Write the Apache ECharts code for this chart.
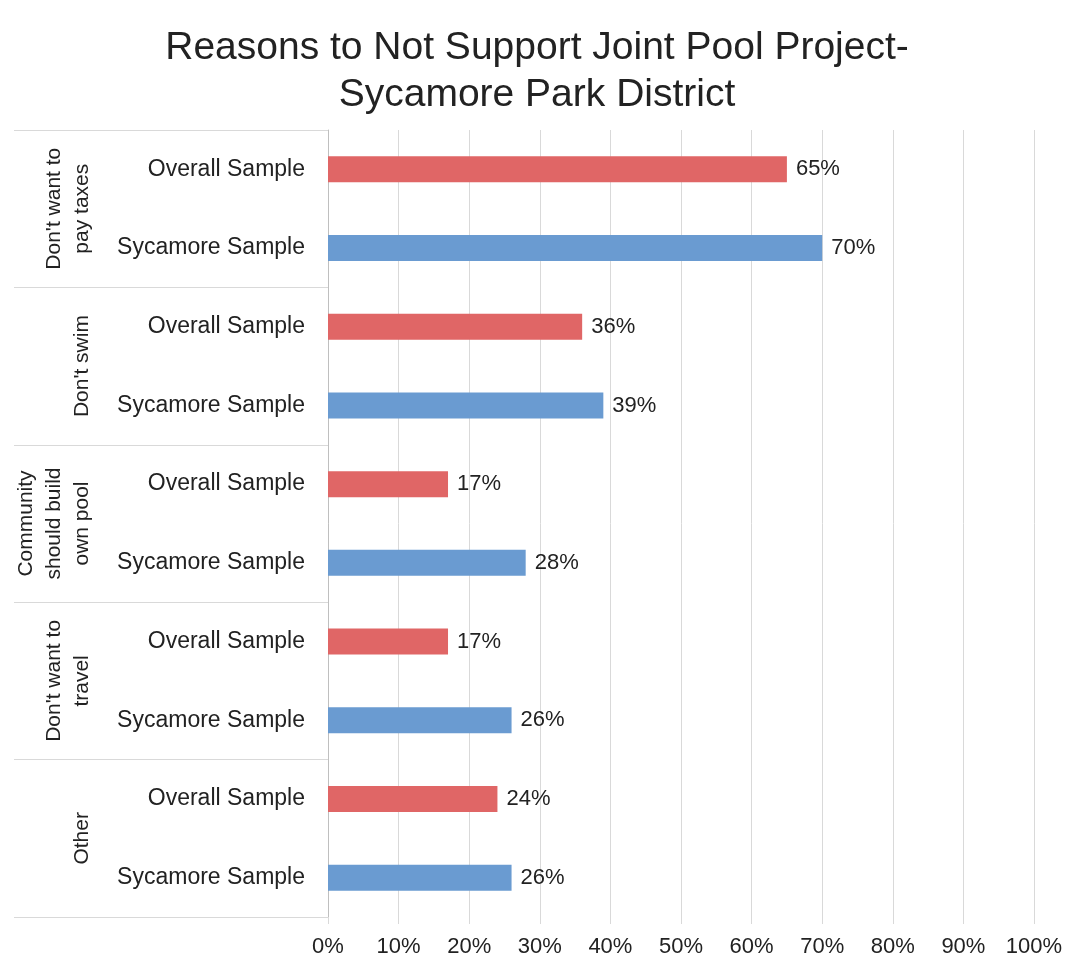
<!DOCTYPE html>
<html lang="en">

<head>
    <meta charset="UTF-8">
    <title>Reasons to Not Support Joint Pool Project</title>
    <script src="https://cdn.jsdelivr.net/npm/echarts@6.0.0/dist/echarts.min.js"></script>
    <style>
        body { margin: 0; background: #fff; }
    </style>
</head>

<body>
    <div id="main" style="width: 1074px; height: 971px;"></div>

    <script type="text/javascript">
        // Data
        const groups = ["Don't want to\npay taxes", "Don't swim", "Community\nshould build\nown pool", "Don't want to\ntravel", "Other"];
        const samples = ['Overall Sample', 'Sycamore Sample'];
        const overall = [65, 36, 17, 17, 24];
        const sycamore = [70, 39, 28, 26, 26];
        const xTicks = [0, 10, 20, 30, 40, 50, 60, 70, 80, 90, 100];

        // one row per sample inside each group
        let rowLabels = [];
        let overallRows = [];
        let sycamoreRows = [];
        groups.forEach((g, i) => {
            rowLabels.push(samples[0], samples[1]);
            overallRows.push(overall[i], null);
            sycamoreRows.push(null, sycamore[i]);
        });

        const font = "'Liberation Sans', Arial, sans-serif";
        const textColor = '#222';
        const gridColor = '#d9d9d9';

        let myChart = echarts.init(document.getElementById('main'));

        let barLabel = {
            show: true,
            position: 'right',
            distance: 9,
            formatter: '{c}%',
            fontFamily: font,
            fontSize: 22,
            color: textColor
        };

        let options = {
            backgroundColor: '#fff',
            animation: false,
            title: {
                text: 'Reasons to Not Support Joint Pool Project-\nSycamore Park District',
                left: 'center',
                top: 20,
                textStyle: {
                    fontFamily: font,
                    fontSize: 39,
                    fontWeight: 'normal',
                    lineHeight: 47,
                    color: textColor
                }
            },
            grid: {
                left: 328,
                right: 40,
                top: 130,
                bottom: 54,
                containLabel: false
            },
            xAxis: {
                type: 'value',
                min: xTicks[0],
                max: xTicks[xTicks.length - 1],
                interval: 10,
                axisLine: { show: false },
                axisTick: { show: true, length: 7, lineStyle: { color: gridColor } },
                splitLine: { lineStyle: { color: gridColor } },
                axisLabel: {
                    formatter: '{value}%',
                    fontFamily: font,
                    fontSize: 22,
                    margin: 19,
                    color: textColor
                }
            },
            yAxis: [{
                type: 'category',
                data: rowLabels,
                inverse: true,
                axisLine: { show: true, lineStyle: { color: '#bfbfbf' } },
                axisTick: { show: false },
                axisLabel: {
                    interval: 0,
                    fontFamily: font,
                    fontSize: 23,
                    margin: 23,
                    color: textColor
                }
            }, {
                // outer group labels with separator lines
                type: 'category',
                data: groups,
                inverse: true,
                position: 'left',
                offset: 0,
                axisLine: { show: false },
                axisTick: { show: true, interval: 0, length: 314, lineStyle: { color: gridColor } },
                axisLabel: {
                    interval: 0,
                    rotate: 90,
                    margin: 232,
                    fontFamily: font,
                    fontSize: 21,
                    lineHeight: 28,
                    color: textColor
                }
            }],
            series: [{
                name: samples[0],
                type: 'bar',
                yAxisIndex: 0,
                data: overallRows,
                barWidth: 26,
                barGap: '-100%',
                itemStyle: { color: '#e06666' },
                label: barLabel
            }, {
                name: samples[1],
                type: 'bar',
                yAxisIndex: 0,
                data: sycamoreRows,
                barWidth: 26,
                barGap: '-100%',
                itemStyle: { color: '#6a9bd1' },
                label: barLabel
            }]
        };

        myChart.setOption(options);
    </script>
</body>

</html>
